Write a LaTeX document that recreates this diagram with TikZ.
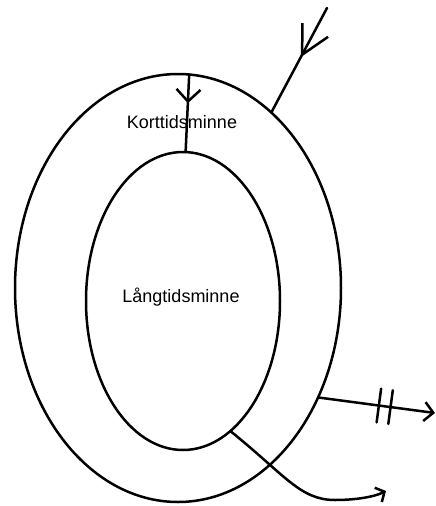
\documentclass[tikz,border=0pt]{standalone}
\usepackage{fontspec}
\setmainfont{Liberation Sans}
\usetikzlibrary{shapes.geometric,arrows.meta,decorations.markings}
\begin{document}
\begin{tikzpicture}[x=1pt,y=-1pt,
  line width=2.5pt, line cap=round, line join=round,
  ring/.style={draw, ellipse, inner sep=0pt, outer sep=0pt},
  lbl/.style={font=\fontsize{18}{20}\selectfont, inner sep=0pt, anchor=base},
  midbarb/.style 2 args={postaction={decorate},
     decoration={markings, mark=at position #1 with {\arrow{#2}}}},
  twoticks/.style={postaction={decorate},
     decoration={markings,
       mark=at position 0.52 with {\draw[-] (0pt,-17pt) -- (0pt,17pt);},
       mark=at position 0.62 with {\draw[-] (0pt,-17pt) -- (0pt,17pt);}}}
]
\useasboundingbox[fill=white] (0,0) rectangle (436,506);

\node[ring, minimum width=326pt, minimum height=428pt] (outer) at (178,288) {};
\node[ring, minimum width=194pt, minimum height=298pt] (inner) at (183,301) {};

\node[lbl] (kort) at (182,128) {Korttidsminne};
\node[lbl] (lang) at (181,302) {Långtidsminne};

% input arrow from the top right
\coordinate (src) at (327,8);
\draw[midbarb={0.47}{Straight Barb[length=28pt,width=29pt]}] (src) -- (outer.62);

% transfer to long-term memory
\draw[midbarb={0.37}{Straight Barb[length=12pt,width=24pt]}] (outer.87) -- (inner.89);

% forgetting arrow with two ticks
\coordinate (out1) at (435,413);
\draw[twoticks, -{Straight Barb[length=9pt,width=19pt]}] (outer.-38.6) -- (out1);

% retrieval arrow
\coordinate (out2) at (386,491);
\draw[-{Straight Barb[length=7pt,width=16pt]}] (inner.-70)
  .. controls (285,475) and (300,500) .. (335,500)
  .. controls (355,500) and (374,497) .. (out2);
\end{tikzpicture}
\end{document}
